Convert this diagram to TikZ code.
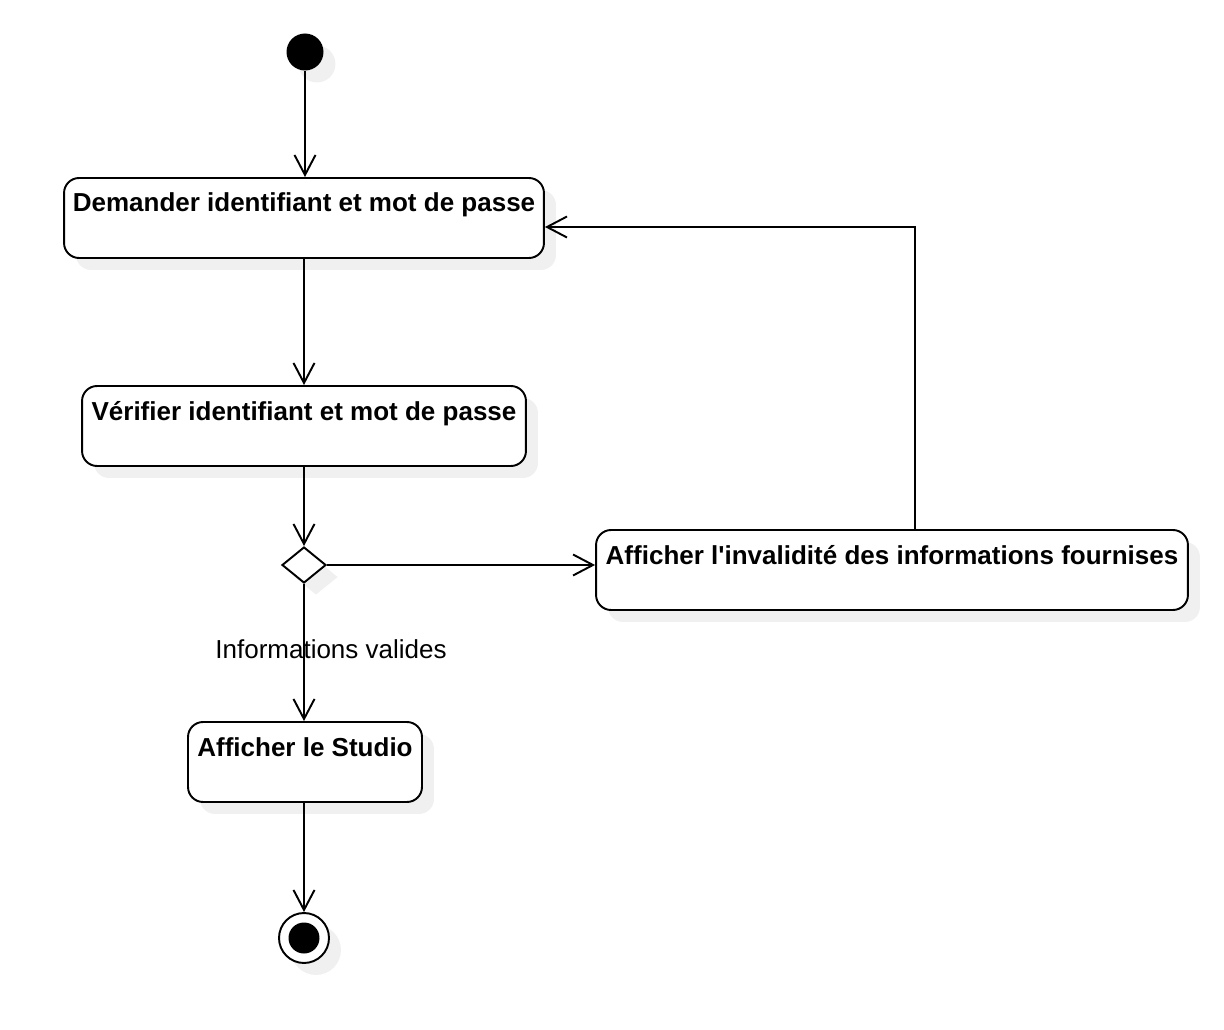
\documentclass[tikz,border=0pt]{standalone}
\usepackage{fontspec}
\setmainfont{Liberation Sans}
\usepackage{tikz}
\usetikzlibrary{shapes.geometric, arrows.meta, shadows}

\tikzset{
    umlshadow/.style={drop shadow={shadow xshift=0.24cm, shadow yshift=-0.24cm, fill=black!6, opacity=1}},
    activity/.style={draw, rounded corners=0.3cm, line width=1.1pt, fill=white, umlshadow,
        inner xsep=0pt, inner ysep=0pt, text height=0.68cm, text depth=0.92cm,
        font=\fontsize{14.8}{17}\selectfont\bfseries},
    startnode/.style={circle, fill=black, minimum size=0.74cm, inner sep=0pt, umlshadow},
    endnode/.style={circle, draw, line width=1.1pt, fill=white, minimum size=1.0cm, inner sep=0pt, umlshadow},
    decision/.style={diamond, draw, line width=1.1pt, fill=white, minimum width=0.88cm,
        minimum height=0.72cm, inner sep=0pt, umlshadow},
    flow/.style={line width=1.1pt, -{Straight Barb[length=0.4cm, width=0.42cm, line width=1.1pt]}}
}

\begin{document}
\begin{tikzpicture}[x=0.02cm, y=-0.02cm]
    \useasboundingbox (0,0) rectangle (1224,1030);

    \node[startnode] (init) at (305,52) {};
    \node[activity, minimum width=9.6cm] (ask) at (304,218) {Demander identifiant et mot de passe};
    \node[activity, minimum width=8.88cm] (check) at (304,426) {Vérifier identifiant et mot de passe};
    \node[decision] (choice) at (304,565) {};
    \node[activity, minimum width=11.84cm] (invalid) at (892,570) {Afficher l\textquotesingle invalidité des informations fournises};
    \node[activity, minimum width=4.68cm] (studio) at (305,762) {Afficher le Studio};
    \node[endnode] (final) at (304,938) {};
    \fill (final) circle (0.31cm);

    \node[font=\fontsize{14.8}{17}\selectfont] (valid) at (331,649) {Informations valides};
    \coordinate (back) at (915,227);

    \path[flow]
        (init) edge (ask.north -| init)
        (ask.south -| check) edge (check)
        (check) edge (choice)
        (choice.east) edge (choice.east -| invalid.west)
        (choice) edge (studio.north -| choice)
        (studio.south -| final) edge (final);
    \draw[flow] (invalid.north -| back) |- (ask.east |- back);
\end{tikzpicture}
\end{document}
